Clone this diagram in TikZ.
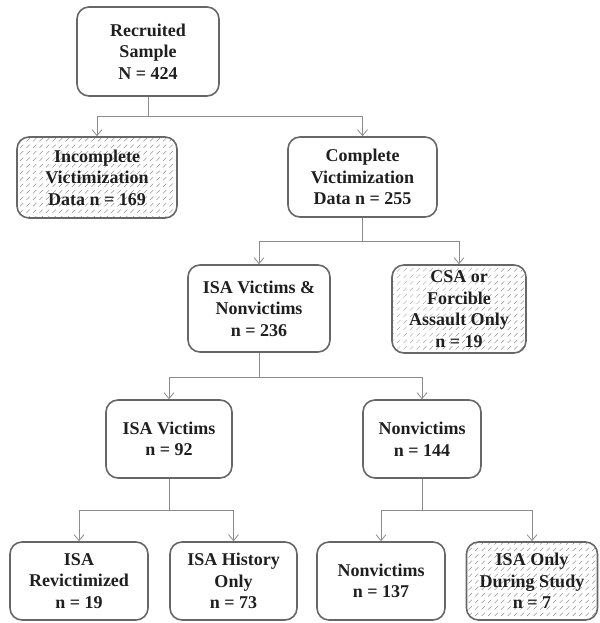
\documentclass[tikz,border=0pt]{standalone}
\usepackage{fontspec}
\setmainfont{Liberation Serif}
\usetikzlibrary{arrows.meta,patterns.meta}
\pgfdeclarepattern{name=dashhatch, type=uncolored,
  bottom left={\pgfpoint{-.1pt}{-.1pt}}, top right={\pgfpoint{6.6pt}{6.6pt}},
  tile size={\pgfpoint{6.5pt}{6.5pt}},
  code={\pgfsetlinewidth{0.35pt}
    \pgfpathmoveto{\pgfpoint{0.5pt}{0.5pt}}\pgfpathlineto{\pgfpoint{3.8pt}{3.8pt}}
    \pgfusepathqstroke}}
\definecolor{boxline}{HTML}{676767}
\definecolor{connline}{HTML}{8C8C8C}
\tikzset{
  box/.style={draw=boxline, line width=1.6pt, rounded corners=12pt, align=center,
    font=\fontsize{18}{21.5}\selectfont\bfseries, text=black!88},
  hatchbox/.style={box, pattern={dashhatch}, pattern color=black!55},
  conn/.style={draw=connline, line width=0.8pt, -{Straight Barb[length=6pt,width=10pt]}}
}

\begin{document}
\begin{tikzpicture}[x=1pt,y=-1pt]
		\useasboundingbox (0,0) rectangle (599,623);
		\node[box, minimum width=142pt, minimum height=89pt] (rec) at (148,51.5) {Recruited\\Sample\\N = 424};
		\node[hatchbox, minimum width=160pt, minimum height=81pt] (inc) at (97,177.5) {Incomplete\\Victimization\\Data n = 169};
		\node[box, minimum width=149pt, minimum height=80pt] (comp) at (362.5,177) {Complete\\Victimization\\Data n = 255};
		\node[box, minimum width=142pt, minimum height=87pt] (isavn) at (259,308.5) {ISA Victims \&\\Nonvictims\\n = 236};
		\node[hatchbox, minimum width=134pt, minimum height=88pt] (csa) at (459,309) {CSA or\\Forcible\\Assault Only\\n = 19};
		\node[box, minimum width=126pt, minimum height=78pt] (isav) at (169,439) {ISA Victims\\n = 92};
		\node[box, minimum width=118pt, minimum height=78pt] (nonv) at (422,439) {Nonvictims\\n = 144};
		\node[box, minimum width=138pt, minimum height=78pt] (revic) at (79,581) {ISA\\Revictimized\\n = 19};
		\node[box, minimum width=127pt, minimum height=78pt] (hist) at (233.5,581) {ISA History\\Only\\n = 73};
		\node[box, minimum width=128pt, minimum height=78pt] (nonvb) at (381,581) {Nonvictims\\n = 137};
		\node[hatchbox, minimum width=131pt, minimum height=78pt] (only) at (532,581) {ISA Only\\During Study\\n = 7};
		% branch points
		\coordinate (b1) at (148,116);
		\coordinate (b2) at (362.5,241);
		\coordinate (b3) at (259,377);
		\coordinate (b4) at (169,510);
		\coordinate (b5) at (422,510);
		\draw[draw=connline, line width=0.8pt] (rec.south) -- (b1);
		\draw[conn] (b1) -| (inc.north);
		\draw[conn] (b1) -| (comp.north);
		\draw[draw=connline, line width=0.8pt] (comp.south) -- (b2);
		\draw[conn] (b2) -| (isavn.north);
		\draw[conn] (b2) -| (csa.north);
		\draw[draw=connline, line width=0.8pt] (isavn.south) -- (b3);
		\draw[conn] (b3) -| (isav.north);
		\draw[conn] (b3) -| (nonv.north);
		\draw[draw=connline, line width=0.8pt] (isav.south) -- (b4);
		\draw[conn] (b4) -| (revic.north);
		\draw[conn] (b4) -| (hist.north);
		\draw[draw=connline, line width=0.8pt] (nonv.south) -- (b5);
		\draw[conn] (b5) -| (nonvb.north);
		\draw[conn] (b5) -| (only.north);
	\end{tikzpicture}
\end{document}
